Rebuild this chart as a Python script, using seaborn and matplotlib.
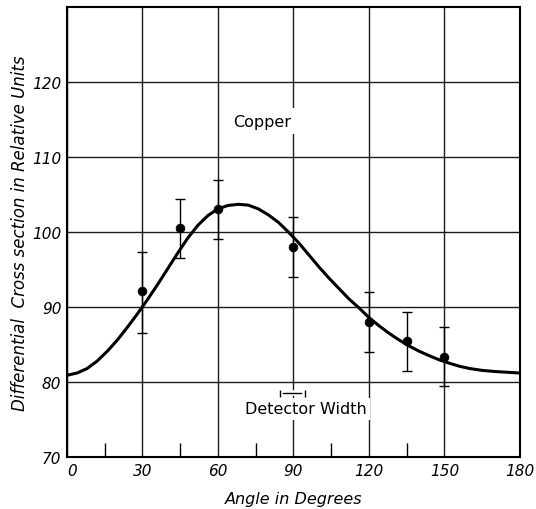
import matplotlib
matplotlib.use("Agg")
import matplotlib.pyplot as plt
import matplotlib.patheffects as pe
import seaborn as sns
import pandas as pd

# theoretical curve, every few degrees
curve_angle = [0, 4, 8, 12, 16, 20, 24, 28, 32, 36, 40, 44, 48, 52, 56, 60, 64, 68,
               72, 76, 80, 84, 88, 92, 96, 100, 104, 108, 112, 116, 120, 124, 128,
               132, 136, 140, 144, 148, 152, 156, 160, 165, 170, 175, 180]
curve_value = [80.9, 81.2, 81.8, 82.8, 84.1, 85.6, 87.3, 89.1, 91.0, 93.0, 95.1,
               97.2, 99.2, 100.9, 102.2, 103.1, 103.55, 103.7, 103.6, 103.1, 102.3,
               101.3, 100.0, 98.6, 97.0, 95.4, 93.9, 92.5, 91.1, 89.9, 88.6, 87.5,
               86.5, 85.6, 84.8, 84.1, 83.5, 82.95, 82.5, 82.1, 81.8, 81.55, 81.4,
               81.3, 81.2]

# measured points with error bars
pts_angle = [30, 45, 60, 90, 120, 135, 150]
pts_value = [92.2, 100.6, 103.1, 98.0, 88.0, 85.5, 83.4]
err_hi = [97.4, 104.4, 107.0, 102.0, 92.0, 89.4, 87.4]
err_lo = [86.6, 96.6, 99.1, 94.0, 84.0, 81.5, 79.5]

# detector width marker
det_center = 89.5
det_width = 10.0
det_level = 78.5

x_ticks = [0, 30, 60, 90, 120, 150, 180]
x_minor = [15, 45, 75, 105, 135]
y_ticks = [70, 80, 90, 100, 110, 120]

sns.set_theme(style="white")
plt.rcParams['font.family'] = ['DejaVu Sans']
plt.rcParams['text.color'] = 'black'
plt.rcParams['axes.labelcolor'] = 'black'

fig = plt.figure(figsize=(5.36, 5.10), dpi=100)
ax = fig.add_axes([0.125, 0.102, 0.845, 0.882])

df_curve = pd.DataFrame({"angle": curve_angle, "value": curve_value})
df_pts = pd.DataFrame({"angle": pts_angle, "value": pts_value})

ax.grid(True, color="#1a1a1a", linewidth=1.0, zorder=0)
ax.set_axisbelow(True)

sns.lineplot(data=df_curve, x="angle", y="value", ax=ax, color="black",
             linewidth=2.2, zorder=3)

yerr = [[v - l for v, l in zip(pts_value, err_lo)],
        [h - v for v, h in zip(pts_value, err_hi)]]
ax.errorbar(pts_angle, pts_value, yerr=yerr, fmt="none", ecolor="black",
            elinewidth=1.0, capsize=3.5, capthick=1.0, zorder=4)
sns.scatterplot(data=df_pts, x="angle", y="value", ax=ax, color="black",
                s=40, edgecolor="black", zorder=5)

ax.errorbar([det_center], [det_level], xerr=[det_width / 2], fmt="none",
            ecolor="black", elinewidth=1.0, capsize=2.5, capthick=1.0, zorder=4,
            path_effects=[pe.Stroke(linewidth=4, foreground="white"), pe.Normal()])

ax.text(77.5, 114.8, "Copper", fontsize=11.5, ha="center", va="center", zorder=6,
        color="black", bbox=dict(boxstyle="square,pad=0.35", fc="white", ec="none"))
ax.text(95, 76.4, "Detector Width", fontsize=11.5, ha="center", va="center", zorder=6,
        color="black", bbox=dict(boxstyle="square,pad=0.2", fc="white", ec="none"))

ax.set_xlim(0, 180)
ax.set_ylim(70, 130)
ax.set_xticks(x_ticks)
ax.set_xticks(x_minor, minor=True)
ax.set_yticks(y_ticks)
ax.set_xticklabels([str(t) for t in x_ticks], fontstyle="italic", fontsize=11)
ax.set_yticklabels([str(t) for t in y_ticks], fontstyle="italic", fontsize=11)
ax.get_xticklabels()[0].set_ha("left")
ax.tick_params(axis="both", which="major", length=0, pad=4, colors="black")
ax.tick_params(axis="x", which="minor", direction="in", length=10, width=1.0,
               bottom=True, color="black")

for s in ax.spines.values():
    s.set_color("black")
    s.set_linewidth(1.5)

ax.set_xlabel("Angle in Degrees", fontsize=11.5, fontstyle="italic", labelpad=10,
              color="black")
ax.set_ylabel("Differential  Cross section in Relative Units", fontsize=12,
              fontstyle="italic", labelpad=2, color="black")

fig.savefig("out.png", dpi=100, facecolor="white")
